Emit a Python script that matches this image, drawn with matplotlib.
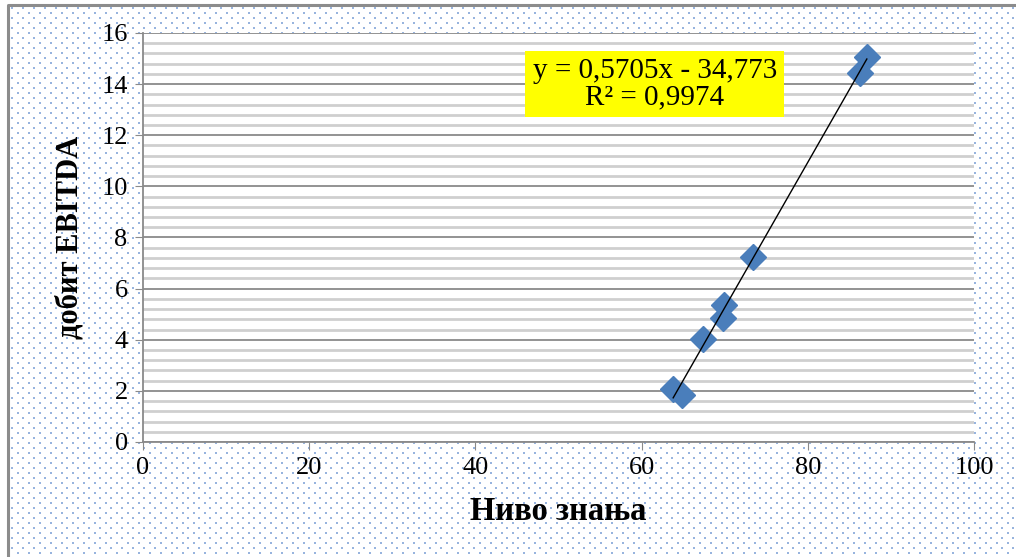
import numpy as np
import matplotlib
matplotlib.use('Agg')
import matplotlib.pyplot as plt
from matplotlib.ticker import MultipleLocator

# values
knowledge = [87.1, 86.3, 73.4, 69.9, 69.8, 67.4, 63.8, 64.9]
ebitda = [15.06, 14.44, 7.24, 5.36, 4.85, 4.03, 2.07, 1.84]
eq_text = 'y = 0,5705x - 34,773\nR² = 0,9974'

plt.rcParams['font.family'] = ['Liberation Serif', 'DejaVu Serif']

W, H = 1016, 557
fig = plt.figure(figsize=(W / 100, H / 100), dpi=100)

# background: dotted pattern (Excel-like fill), frame only on top/left (cropped)
bgax = fig.add_axes([0, 0, 1, 1], zorder=-5)
bgax.set_xlim(0, W)
bgax.set_ylim(H, 0)
bgax.axis('off')
gx, gy = np.meshgrid(np.arange(12, W, 11.0), np.arange(8, H, 5.0))
row = np.arange(gy.shape[0])[:, None]
gx = gx + (row % 2) * 5.5
bgax.scatter(gx.ravel(), gy.ravel(), s=1.3, marker='s', color='#98b4de',
             linewidths=0)
bgax.plot([8, 8, W], [H, 5, 5], color='#8c8c8c', linewidth=2.2)

ax = fig.add_axes([0.1407, 0.2065, 0.818, 0.7343])
ax.set_facecolor('white')

ax.set_xlim(0, 100)
ax.set_ylim(0, 16)
ax.xaxis.set_major_locator(MultipleLocator(20))
ax.yaxis.set_major_locator(MultipleLocator(2))
ax.yaxis.set_minor_locator(MultipleLocator(0.4))

ax.grid(axis='y', which='major', color='#8a8a8a', linewidth=1.3)
ax.grid(axis='y', which='minor', color='#cfcfcf', linewidth=2.0)
ax.set_axisbelow(True)

for s in ['top', 'right']:
    ax.spines[s].set_visible(False)
for s in ['left', 'bottom']:
    ax.spines[s].set_color('#8a8a8a')
    ax.spines[s].set_linewidth(1.3)
ax.tick_params(which='major', direction='out', length=6, color='#8a8a8a',
               labelsize=19, pad=5)
ax.tick_params(which='minor', length=0)

ax.plot(knowledge, ebitda, linestyle='none', marker='D', markersize=13.5,
        color='#4a7ebb', zorder=3)

# linear trend line
k, b = np.polyfit(knowledge, ebitda, 1)
xs = np.array([min(knowledge), max(knowledge)])
ax.plot(xs, k * xs + b, color='black', linewidth=1, zorder=4)

ax.text(61.6, 14.0, eq_text, fontsize=21, ha='center', va='center',
        linespacing=1.0,
        bbox=dict(boxstyle='square,pad=0.25', facecolor='#ffff00', edgecolor='none'))

ax.set_xlabel('Ниво знања', fontsize=23.5, fontweight='bold', labelpad=12)
ax.set_ylabel('добит EBITDA', fontsize=22, fontweight='bold', labelpad=12)

fig.savefig('out.png', dpi=100)
